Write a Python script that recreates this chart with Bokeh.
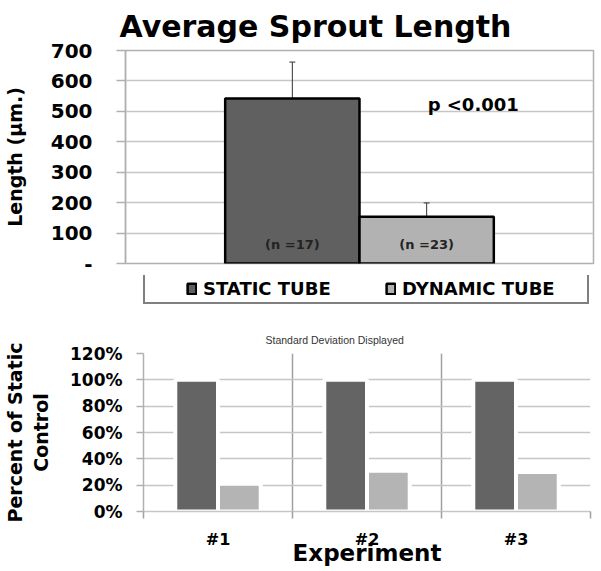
from bokeh.plotting import figure
from bokeh.models import (ColumnDataSource, FixedTicker, Legend, LegendItem, Whisker,
                          Label, NumeralTickFormatter, TeeHead)
from bokeh.layouts import column
from bokeh.embed import file_html
from bokeh.resources import INLINE
from bokeh.core.properties import value

# ---------------- data ----------------
groups = ["STATIC TUBE", "DYNAMIC TUBE"]
mean_length = [542, 154]
sd_length = [120, 45]
n_counts = [17, 23]
length_ticks = [0, 100, 200, 300, 400, 500, 600, 700]

experiments = ["#1", "#2", "#3"]
static_pct = [1.00, 1.00, 1.00]
dynamic_pct = [0.21, 0.31, 0.30]
pct_ticks = [0, 0.2, 0.4, 0.6, 0.8, 1.0, 1.2]

# ---------------- style ----------------
FONT = "DejaVu Sans"
DARK = "#606060"
LIGHT = "#b2b2b2"
GRID = "#c6c6c6"
AXIS = "#b0b0b0"

# ================= top chart =================
BAR_W = 0.287
xs = [0.5 + (i - (len(groups) - 1) / 2) * BAR_W for i in range(len(groups))]
src1 = ColumnDataSource(dict(
    x=xs, mean=mean_length, zero=[0] * len(groups),
    upper=[m + s for m, s in zip(mean_length, sd_length)],
    lower=[m - s for m, s in zip(mean_length, sd_length)],
    color=[DARK, LIGHT],
    nlabel=[f"(n ={n})" for n in n_counts],
))

p1 = figure(width=595, height=275, x_range=(0, 1), y_range=(0, 700),
            output_backend="svg", toolbar_location=None,
            min_border_left=123, min_border_right=2, min_border_top=48, min_border_bottom=12)
p1.frame_align = False
p1.title.text = "Average Sprout Length"
p1.title.align = "left"
p1.title.offset = -6
p1.title.standoff = 13
p1.title.text_font = FONT
p1.title.text_font_style = "bold"
p1.title.text_font_size = "30px"
p1.title.text_color = "black"

bars1 = p1.vbar(x="x", top="mean", width=BAR_W, source=src1, fill_color="color",
                line_color="black", line_width=2.5)
p1.add_layout(Whisker(source=src1, base="x", upper="upper", lower="lower",
                      line_color="#333333", line_width=1,
                      upper_head=TeeHead(size=6, line_color="#333333", line_width=1),
                      lower_head=TeeHead(size=6, line_color="#333333", line_width=1)))
p1.text(x="x", y="zero", text="nlabel", source=src1, text_align="center",
        text_baseline="middle", y_offset=-19, text_font=value(FONT), text_font_size="13px",
        text_font_style="bold", text_color="#222222")
p1.add_layout(Label(x=0.743, y=521, text="p <0.001", text_align="center",
                    text_baseline="middle", text_font=FONT, text_font_style="bold",
                    text_font_size="18px", text_color="black"))

p1.yaxis.ticker = FixedTicker(ticks=length_ticks)
p1.yaxis.major_label_overrides = {0: "-"}
p1.yaxis.major_label_text_font = FONT
p1.yaxis.major_label_text_font_style = "bold"
p1.yaxis.major_label_text_font_size = "20px"
p1.yaxis.major_label_text_color = "black"
p1.yaxis.major_label_standoff = 24
p1.yaxis.axis_label = "Length (µm.)"
p1.yaxis.axis_label_text_font = FONT
p1.yaxis.axis_label_text_font_style = "bold"
p1.yaxis.axis_label_text_font_size = "19px"
p1.yaxis.axis_label_text_color = "black"
p1.yaxis.axis_label_standoff = 22
p1.yaxis.axis_line_color = AXIS
p1.yaxis.axis_line_width = 1.5
p1.yaxis.major_tick_line_color = AXIS
p1.yaxis.major_tick_line_width = 1.5
p1.yaxis.major_tick_out = 9
p1.yaxis.major_tick_in = 0
p1.yaxis.minor_tick_line_color = None

p1.xaxis.visible = False
p1.xgrid.grid_line_color = None
p1.ygrid.grid_line_color = GRID
p1.ygrid.grid_line_width = 1.5
p1.outline_line_color = AXIS
p1.outline_line_width = 1.5

# ================= legend strip (same bars, hidden under the legend box) =================
pl = figure(width=595, height=29, x_range=(-0.3, 1.2), y_range=(-100, 600),
            output_backend="svg", toolbar_location=None, min_border=0)
pl.frame_align = False
pl.xaxis.visible = False
pl.yaxis.visible = False
pl.grid.visible = False
pl.outline_line_color = None
leg_bars = pl.vbar(x="x", top="mean", width=BAR_W, source=src1, fill_color="color",
                   line_color="black", line_width=2.5)
legend = Legend(
    items=[LegendItem(label=g, renderers=[leg_bars], index=i) for i, g in enumerate(groups)],
    orientation="horizontal", location=(143, 0), margin=0, padding=3,
    spacing=0, label_standoff=6, label_width=182, label_height=20,
    glyph_width=11, glyph_height=13,
    border_line_color="black", border_line_width=2, background_fill_color="white",
    background_fill_alpha=1.0,
    label_text_font=FONT, label_text_font_style="bold", label_text_font_size="18px",
    label_text_color="black",
    title=" ", title_location="left", title_standoff=37, title_text_font_size="1px",
)
pl.add_layout(legend)

# ================= bottom chart =================
PW = 0.2867
src2 = ColumnDataSource(dict(
    xs=[i + 0.5 - PW / 2 for i in range(len(experiments))],
    xd=[i + 0.5 + PW / 2 for i in range(len(experiments))],
    static=static_pct, dynamic=dynamic_pct,
))

p2 = figure(width=595, height=267, x_range=(0, len(experiments)), y_range=(0, 1.2),
            output_backend="svg", toolbar_location=None,
            min_border_left=140, min_border_right=5, min_border_top=49, min_border_bottom=60)
p2.frame_align = False
p2.title.text = "Standard Deviation Displayed"
p2.title.align = "left"
p2.title.offset = 122
p2.title.standoff = 15
p2.title.text_font = "Liberation Sans"
p2.title.text_font_style = "normal"
p2.title.text_font_size = "10.5px"
p2.title.text_color = "#333333"

p2.vbar(x="xs", top="static", width=PW, source=src2, fill_color="#646464",
        line_color="white", line_width=4)
p2.vbar(x="xd", top="dynamic", width=PW, source=src2, fill_color="#b4b4b4",
        line_color="white", line_width=4)

p2.yaxis.ticker = FixedTicker(ticks=pct_ticks)
p2.yaxis.formatter = NumeralTickFormatter(format="0%")
p2.yaxis.major_label_text_font = FONT
p2.yaxis.major_label_text_font_style = "bold"
p2.yaxis.major_label_text_font_size = "17px"
p2.yaxis.major_label_text_color = "black"
p2.yaxis.major_label_standoff = 14
p2.yaxis.axis_label = "Percent of Static\nControl"
p2.yaxis.axis_label_text_font = FONT
p2.yaxis.axis_label_text_font_style = "bold"
p2.yaxis.axis_label_text_font_size = "19px"
p2.yaxis.axis_label_text_color = "black"
p2.yaxis.axis_label_standoff = 15
p2.yaxis.axis_line_color = AXIS
p2.yaxis.axis_line_width = 1.5
p2.yaxis.major_tick_line_color = AXIS
p2.yaxis.major_tick_line_width = 1.5
p2.yaxis.major_tick_out = 7
p2.yaxis.major_tick_in = 0
p2.yaxis.minor_tick_line_color = None

xt = FixedTicker(ticks=[i + 0.5 for i in range(len(experiments))],
                 minor_ticks=list(range(len(experiments) + 1)))
p2.xaxis.ticker = xt
p2.xaxis.major_label_overrides = {i + 0.5: e for i, e in enumerate(experiments)}
p2.xaxis.major_label_text_font = FONT
p2.xaxis.major_label_text_font_style = "bold"
p2.xaxis.major_label_text_font_size = "16px"
p2.xaxis.major_label_text_color = "black"
p2.xaxis.major_label_standoff = 11
p2.xaxis.major_tick_line_color = None
p2.xaxis.major_tick_out = 0
p2.xaxis.major_tick_in = 0
p2.xaxis.minor_tick_line_color = "#a0a0a0"
p2.xaxis.minor_tick_line_width = 1.5
p2.xaxis.minor_tick_out = 7
p2.xaxis.minor_tick_in = 0
p2.xaxis.axis_line_color = GRID
p2.xaxis.axis_line_width = 1.5
p2.xaxis.axis_label = "Experiment"
p2.xaxis.axis_label_text_font = FONT
p2.xaxis.axis_label_text_font_style = "bold"
p2.xaxis.axis_label_text_font_size = "23px"
p2.xaxis.axis_label_text_color = "black"
p2.xaxis.axis_label_standoff = -12

p2.xgrid.ticker = xt
p2.xgrid.grid_line_color = None
p2.xgrid.minor_grid_line_color = "#a0a0a0"
p2.xgrid.minor_grid_line_width = 1.5
p2.ygrid.grid_line_color = GRID
p2.ygrid.grid_line_width = 1.5
p2.outline_line_color = None

layout = column(p1, pl, p2, spacing=0)
open("out.html", "w").write(file_html(layout, INLINE))
